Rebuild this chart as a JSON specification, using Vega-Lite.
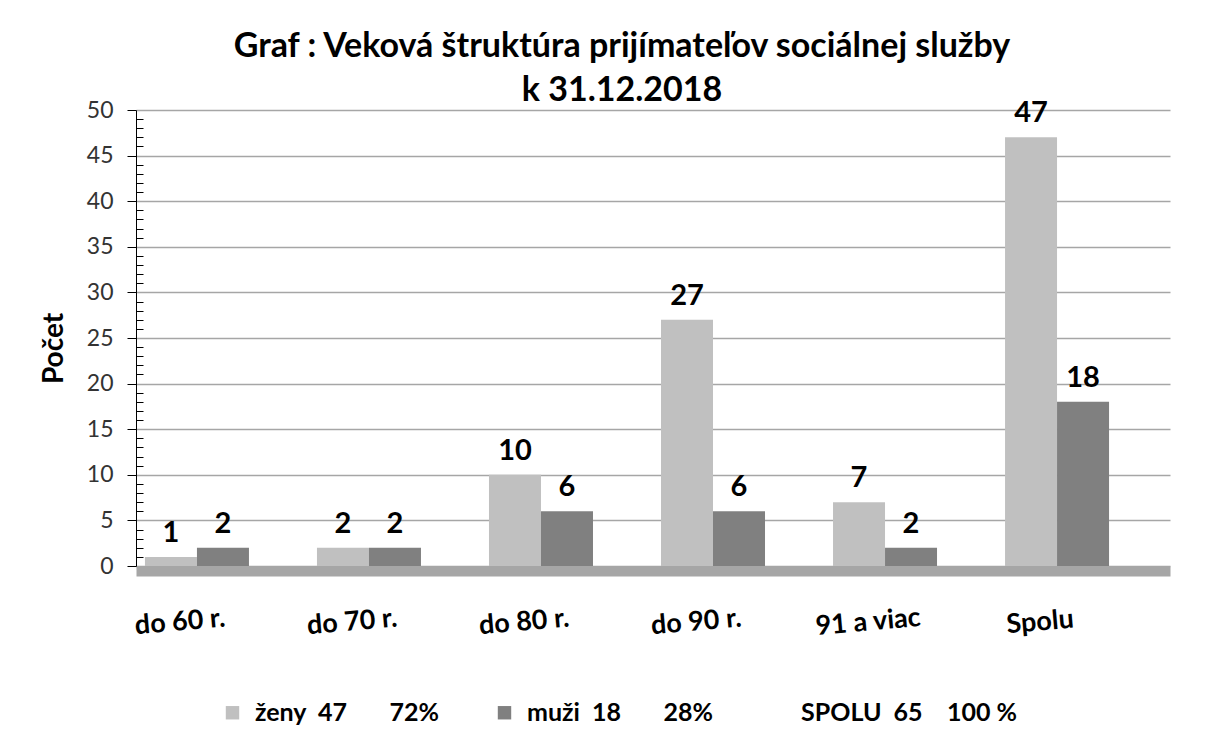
{
  "$schema": "https://vega.github.io/schema/vega-lite/v6.json",
  "autosize": {"type": "none"},
  "width": 1034,
  "height": 456,
  "padding": {"left": 136, "top": 110, "right": 35, "bottom": 184},
  "background": "white",
  "title": {
    "text": ["Graf : Veková štruktúra prijímateľov sociálnej služby", "k 31.12.2018"],
    "font": "Lato",
    "fontSize": 34,
    "fontWeight": "bold",
    "color": "#000000",
    "lineHeight": 44,
    "anchor": "middle",
    "dx": -31,
    "offset": -9
  },
  "data": {
    "values": [
      {"kat": "do 60 r.", "pohlavie": "ženy", "pocet": 1},
      {"kat": "do 60 r.", "pohlavie": "muži", "pocet": 2},
      {"kat": "do 70 r.", "pohlavie": "ženy", "pocet": 2},
      {"kat": "do 70 r.", "pohlavie": "muži", "pocet": 2},
      {"kat": "do 80 r.", "pohlavie": "ženy", "pocet": 10},
      {"kat": "do 80 r.", "pohlavie": "muži", "pocet": 6},
      {"kat": "do 90 r.", "pohlavie": "ženy", "pocet": 27},
      {"kat": "do 90 r.", "pohlavie": "muži", "pocet": 6},
      {"kat": "91 a viac", "pohlavie": "ženy", "pocet": 7},
      {"kat": "91 a viac", "pohlavie": "muži", "pocet": 2},
      {"kat": "Spolu", "pohlavie": "ženy", "pocet": 47},
      {"kat": "Spolu", "pohlavie": "muži", "pocet": 18}
    ]
  },
  "encoding": {
    "x": {
      "field": "kat",
      "type": "nominal",
      "sort": null,
      "scale": {"paddingInner": 0.093, "paddingOuter": 0.052},
      "axis": {
        "title": null,
        "domain": true,
        "domainColor": "#a6a6a6",
        "domainWidth": 10,
        "offset": 5,
        "ticks": false,
        "grid": false,
        "labelAngle": -5,
        "labelAlign": "center",
        "labelBaseline": "top",
        "labelOffset": -44,
        "labelPadding": 38,
        "labelFont": "Lato",
        "labelFontSize": 27,
        "labelFontWeight": "bold",
        "labelColor": "#000000"
      }
    },
    "xOffset": {
      "field": "pohlavie",
      "type": "nominal",
      "scale": {"domain": ["ženy", "muži", "SPOLU"], "paddingInner": 0, "paddingOuter": 0}
    },
    "y": {
      "field": "pocet",
      "type": "quantitative",
      "scale": {"domain": [0, 50], "nice": false},
      "axis": {
        "title": "Počet",
        "titleFont": "Lato",
        "titleFontSize": 28,
        "titleFontWeight": "bold",
        "titleColor": "#000000",
        "titleX": -82,
        "titleY": 238,
        "titleAngle": -90,
        "titleAlign": "center",
        "titleBaseline": "middle",
        "values": [0,1,2,3,4,5,6,7,8,9,10,11,12,13,14,15,16,17,18,19,20,21,22,23,24,25,26,27,28,29,30,31,32,33,34,35,36,37,38,39,40,41,42,43,44,45,46,47,48,49,50],
        "labelExpr": "datum.value % 5 === 0 ? datum.label : ''",
        "labelFont": "Lato",
        "labelFontSize": 23,
        "labelColor": "#333333",
        "labelPadding": 14,
        "domain": true,
        "domainColor": "#000000",
        "domainWidth": 1,
        "ticks": true,
        "tickColor": "#000000",
        "tickWidth": 1,
        "tickSize": {"condition": {"test": "datum.value % 5 === 0", "value": 9}, "value": -7},
        "grid": true,
        "gridColor": "#a6a6a6",
        "gridWidth": 1.5,
        "gridOpacity": {"condition": {"test": "datum.value % 5 === 0", "value": 1}, "value": 0}
      }
    }
  },
  "layer": [
    {
      "mark": {"type": "bar"},
      "encoding": {
        "color": {
          "field": "pohlavie",
          "type": "nominal",
          "scale": {"domain": ["ženy", "muži", "SPOLU"], "range": ["#c0c0c0", "#808080", "rgba(0,0,0,0)"]},
          "legend": {
            "title": null,
            "orient": "none",
            "direction": "horizontal",
            "legendX": 84,
            "legendY": 590,
            "symbolType": "square",
            "symbolSize": 180,
            "symbolStrokeWidth": 0,
            "labelOffset": 10,
            "columnPadding": 52,
            "labelFont": "Lato",
            "labelFontSize": 25,
            "labelFontWeight": "bold",
            "labelColor": "#000000",
            "labelLimit": 400,
            "labelExpr": "datum.label == 'ženy' ? 'ženy\u00a0\u00a047\u00a0\u00a0\u00a0\u00a0\u00a0\u00a0\u00a072%' : datum.label == 'muži' ? 'muži\u00a0\u00a018\u00a0\u00a0\u00a0\u00a0\u00a0\u00a0\u00a028%' : 'SPOLU\u00a0\u00a065\u00a0\u00a0\u00a0\u00a0100\u00a0%'"
          }
        }
      }
    },
    {
      "mark": {"type": "text", "baseline": "bottom", "dy": -9, "font": "Lato", "fontSize": 29, "fontWeight": "bold", "color": "#000000"},
      "encoding": {
        "text": {"field": "pocet", "type": "quantitative"}
      }
    }
  ],
  "config": {
    "view": {"stroke": null}
  }
}
